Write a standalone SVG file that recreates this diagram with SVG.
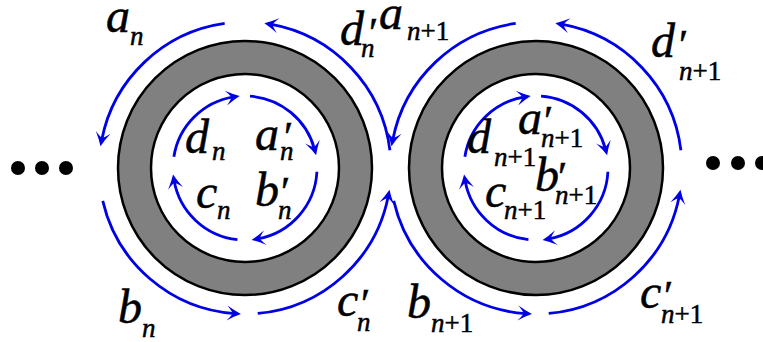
<svg xmlns="http://www.w3.org/2000/svg" width="763" height="342" viewBox="0 0 763 342">
<style>
.ring{fill:#808080;stroke:#000;stroke-width:2.5}
.hole{fill:#fff;stroke:#000;stroke-width:2.5}
.arc{fill:none;stroke:#0000e6;stroke-width:2.8;marker-end:url(#ah)}
text{font-family:"Liberation Serif","DejaVu Serif",serif;fill:#000;stroke:#000;stroke-width:0.5}
.m{font-style:italic;font-size:48px}
.s{font-style:italic;font-size:27px}
.r{font-style:normal}
.p{font-style:normal;font-size:42px}
.dot{fill:#000}
</style>
<defs>
<marker id="ah" markerUnits="userSpaceOnUse" viewBox="-15 -8 16 16" markerWidth="16" markerHeight="16" refX="-6" refY="0" orient="auto">
<path d="M0,0 Q-6,-2.5 -14,-7.5 Q-8.5,-1.5 -8.5,0 Q-8.5,1.5 -14,7.5 Q-6,2.5 0,0 Z" fill="#0000e6"/>
</marker>
</defs>
<g id="dots-left"><circle class="dot" cx="18" cy="168" r="7"/><circle class="dot" cx="42" cy="168" r="7"/><circle class="dot" cx="66" cy="168" r="7"/></g>
<g id="dots-right"><circle class="dot" cx="713" cy="163" r="7"/><circle class="dot" cx="738" cy="163" r="7"/><circle class="dot" cx="762" cy="163" r="7"/></g>
<g id="ring-n"><circle class="ring" cx="245" cy="168" r="127"/><circle class="hole" cx="245" cy="168" r="94"/></g>
<g id="ring-n1"><circle class="ring" cx="536" cy="168" r="127"/><circle class="hole" cx="536" cy="168" r="94"/></g>
<g id="connectors">
<path class="arc" d="M224.68,23.42 A146,146 0 0 0 101.66,140.24"/>
<path class="arc" d="M389.91,150.21 A146,146 0 0 0 270.26,24.20"/>
<path class="arc" d="M102.74,200.84 A146,146 0 0 0 234.92,313.65"/>
<path class="arc" d="M257.73,313.44 A146,146 0 0 0 388.34,195.76"/>
<path class="arc" d="M173.89,156.74 A72,72 0 0 1 233.76,96.88"/>
<path class="arc" d="M250.02,96.18 A72,72 0 0 1 314.55,149.39"/>
<path class="arc" d="M316.90,171.77 A72,72 0 0 1 257.48,238.91"/>
<path class="arc" d="M237.47,239.61 A72,72 0 0 1 174.09,180.48"/>
<path class="arc" d="M515.68,23.42 A146,146 0 0 0 392.66,140.24"/>
<path class="arc" d="M680.91,150.21 A146,146 0 0 0 561.26,24.20"/>
<path class="arc" d="M393.74,200.84 A146,146 0 0 0 525.92,313.65"/>
<path class="arc" d="M548.73,313.44 A146,146 0 0 0 679.34,195.76"/>
<path class="arc" d="M464.89,156.74 A72,72 0 0 1 524.76,96.88"/>
<path class="arc" d="M541.02,96.18 A72,72 0 0 1 605.55,149.39"/>
<path class="arc" d="M607.90,171.77 A72,72 0 0 1 548.48,238.91"/>
<path class="arc" d="M528.47,239.61 A72,72 0 0 1 465.09,180.48"/>
</g>
<g id="labels">
<g id="l-an"><text class="m" x="106" y="32">a</text><text class="s" x="130" y="45">n</text></g>
<g id="l-dpn"><text class="m" x="340" y="45">d</text><text class="p" x="369" y="47">′</text><text class="s" x="361" y="57">n</text></g>
<g id="l-an1"><text class="m" x="379" y="29">a</text><text class="s" x="407" y="40">n<tspan class="r">+1</tspan></text></g>
<g id="l-dpn1"><text class="m" x="651" y="57">d</text><text class="p" x="679" y="59">′</text><text class="s" x="679" y="80">n<tspan class="r">+1</tspan></text></g>
<g id="l-bn"><text class="m" x="118" y="323">b</text><text class="s" x="142" y="337">n</text></g>
<g id="l-cpn"><text class="m" x="337" y="316">c</text><text class="p" x="361" y="318">′</text><text class="s" x="357" y="331">n</text></g>
<g id="l-bn1"><text class="m" x="407" y="318">b</text><text class="s" x="431" y="332">n<tspan class="r">+1</tspan></text></g>
<g id="l-cpn1"><text class="m" x="640" y="308">c</text><text class="p" x="664" y="310">′</text><text class="s" x="661" y="323">n<tspan class="r">+1</tspan></text></g>
<g id="l-dn"><text class="m" x="185" y="153">d</text><text class="s" x="212" y="160">n</text></g>
<g id="l-apn"><text class="m" x="255" y="150">a</text><text class="p" x="284" y="151">′</text><text class="s" x="280" y="160">n</text></g>
<g id="l-cn"><text class="m" x="196" y="208">c</text><text class="s" x="217" y="219">n</text></g>
<g id="l-bpn"><text class="m" x="255" y="206">b</text><text class="p" x="281" y="206">′</text><text class="s" x="278" y="219">n</text></g>
<g id="l-dn1"><text class="m" x="467" y="153">d</text><text class="s" x="494" y="166">n<tspan class="r">+1</tspan></text></g>
<g id="l-apn1"><text class="m" x="518" y="134">a</text><text class="p" x="544" y="135">′</text><text class="s" x="541" y="147">n<tspan class="r">+1</tspan></text></g>
<g id="l-bpn1"><text class="m" x="535" y="191">b</text><text class="p" x="558" y="191">′</text><text class="s" x="555" y="204">n<tspan class="r">+1</tspan></text></g>
<g id="l-cn1"><text class="m" x="485" y="207">c</text><text class="s" x="504" y="219">n<tspan class="r">+1</tspan></text></g>
</g>
</svg>
